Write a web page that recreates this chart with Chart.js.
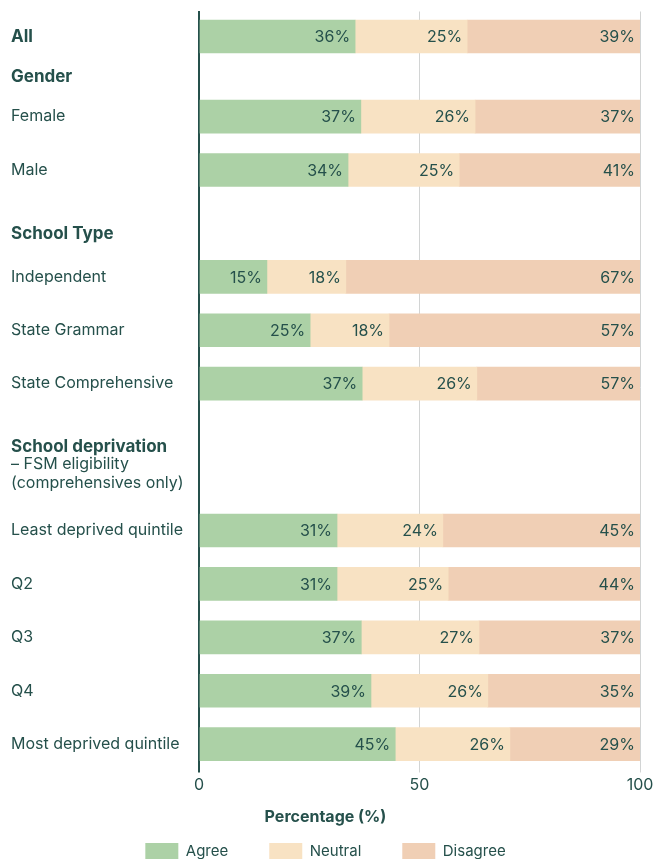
<!DOCTYPE html>
<html>
<head>
<meta charset="utf-8">
<script src="https://cdn.jsdelivr.net/npm/chart.js@4.4.1/dist/chart.umd.min.js"></script>
<style>
  html, body { margin: 0; padding: 0; background: #ffffff; }
  canvas { display: block; }
</style>
</head>
<body>
<canvas id="chart" width="655" height="859"></canvas>
<script>
// ---------------- DATA ----------------
const categories = ['All', 'Female', 'Male', 'Independent', 'State Grammar', 'State Comprehensive',
  'Least deprived quintile', 'Q2', 'Q3', 'Q4', 'Most deprived quintile'];
const groupHeadings = ['Gender', 'School Type', 'School deprivation', ['– FSM eligibility', '(comprehensives only)']];
const seriesNames = ['Agree', 'Neutral', 'Disagree'];
const agree    = [35.4, 36.7, 33.8, 15.4, 25.2, 37.0, 31.3, 31.3, 36.8, 39.0, 44.5];
const neutral  = [25.4, 25.9, 25.2, 17.9, 17.9, 26.0, 24.0, 25.2, 26.7, 26.5, 26.0];
const disagree = [39.2, 37.4, 41.0, 66.7, 56.9, 37.0, 44.7, 43.5, 36.5, 34.5, 29.5];
const agreeLabels    = ['36%', '37%', '34%', '15%', '25%', '37%', '31%', '31%', '37%', '39%', '45%'];
const neutralLabels  = ['25%', '26%', '25%', '18%', '18%', '26%', '24%', '25%', '27%', '26%', '26%'];
const disagreeLabels = ['39%', '37%', '41%', '67%', '57%', '57%', '45%', '44%', '37%', '35%', '29%'];
const xTickValues = [0, 50, 100];
const xTitle = 'Percentage (%)';

// ---------------- LAYOUT / STYLE ----------------
const TEXT = '#25504b';
const FONT = 'Inter';
const COLORS = ['#acd1a6', '#f8e2c3', '#f0cfb5'];
const GRID = '#d2d4d4';
const SLOTS = 225;                                    // fine rows on the category axis
const rowSlot = [7, 31, 47, 79, 95, 111, 155, 171, 187, 203, 219];
const headingSlot = [19, 66, 130, 138];
const headingBold = [true, true, true, false];

const slotLabels = new Array(SLOTS).fill('');
const boldSlots = new Set([rowSlot[0]]);
categories.forEach((c, i) => { slotLabels[rowSlot[i]] = c; });
groupHeadings.forEach((h, i) => {
  slotLabels[headingSlot[i]] = h;
  if (headingBold[i]) boldSlots.add(headingSlot[i]);
});
function toSlots(arr) {
  const out = new Array(SLOTS).fill(null);
  arr.forEach((v, i) => { out[rowSlot[i]] = v; });
  return out;
}

const seriesValues = [agree, neutral, disagree];
const seriesLabels = [agreeLabels, neutralLabels, disagreeLabels];

const datasets = seriesNames.map((name, i) => ({
  label: name,
  data: toSlots(seriesValues[i]),
  valueText: toSlots(seriesLabels[i]),
  backgroundColor: COLORS[i],
  borderWidth: 0,
  barThickness: 33
}));

const barLabelPlugin = {
  id: 'barLabels',
  afterDatasetsDraw(chart) {
    const ctx = chart.ctx;
    ctx.save();
    ctx.font = '16px ' + FONT;
    ctx.fillStyle = TEXT;
    ctx.textAlign = 'right';
    ctx.textBaseline = 'middle';
    chart.data.datasets.forEach((ds, di) => {
      const meta = chart.getDatasetMeta(di);
      meta.data.forEach((el, i) => {
        const t = ds.valueText[i];
        if (t == null || ds.data[i] == null) return;
        ctx.fillText(t, el.x - 5, el.y + 1);
      });
    });
    ctx.restore();
  }
};

new Chart(document.getElementById('chart'), {
  type: 'bar',
  data: { labels: slotLabels, datasets },
  options: {
    responsive: false,
    animation: false,
    indexAxis: 'y',
    layout: { padding: { top: 11.5, left: 11, right: 15, bottom: 0 } },
    scales: {
      x: {
        type: 'linear', min: 0, max: 100, stacked: true,
        afterBuildTicks: (s) => { s.ticks = xTickValues.map(v => ({ value: v })); },
        afterFit: (s) => { s.paddingLeft = 0; s.paddingRight = 0; },
        ticks: { color: TEXT, font: { family: FONT, size: 16 }, padding: 3 },
        grid: {
          color: (c) => (c.tick && c.tick.value === 0) ? TEXT : GRID,
          lineWidth: (c) => (c.tick && c.tick.value === 0) ? 2 : 1,
          drawTicks: true, tickLength: 10
        },
        border: { display: false }
      },
      y: {
        type: 'category', stacked: true, offset: true,
        grid: { display: false, drawTicks: false },
        border: { display: true, color: TEXT, width: 2 },
        ticks: {
          autoSkip: false, crossAlign: 'far', color: TEXT, padding: 0,
          font: (c) => boldSlots.has(c.index)
            ? { family: FONT, size: 17, weight: 'bold' }
            : { family: FONT, size: 16, lineHeight: 1.2 }
        },
        afterFit: (s) => { s.width = 188; }
      }
    },
    plugins: {
      tooltip: { enabled: false },
      title: {
        display: true, text: xTitle, position: 'bottom', weight: 500,
        color: TEXT, font: { family: FONT, size: 16, weight: 'bold' },
        padding: { top: 9.7, bottom: -24.6 }
      },
      legend: {
        position: 'bottom', maxHeight: 57,
        labels: {
          color: TEXT, font: { family: FONT, size: 15 },
          boxWidth: 33, boxHeight: 16, padding: 41
        }
      }
    }
  },
  plugins: [barLabelPlugin]
});
</script>
</body>
</html>
